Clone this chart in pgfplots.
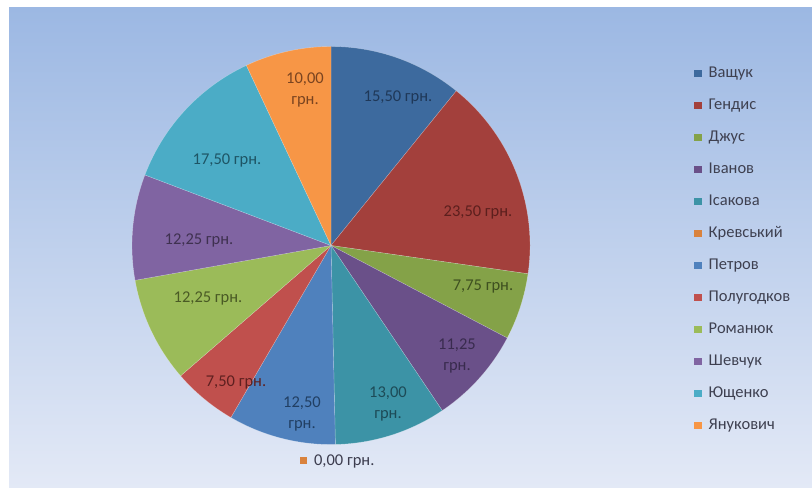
\documentclass[border=0pt]{standalone}
\usepackage{fontspec}
\setmainfont{Carlito}
\usepackage{pgfplots}
\pgfplotsset{compat=1.18}

\definecolor{bgTop}{HTML}{9CB8E3}
\definecolor{bgBot}{HTML}{E3E9F6}
\definecolor{cVa}{HTML}{3D6A9E}
\definecolor{cGe}{HTML}{A3403C}
\definecolor{cDz}{HTML}{84A248}
\definecolor{cIv}{HTML}{6A5089}
\definecolor{cIs}{HTML}{3C93A6}
\definecolor{cKr}{HTML}{D9823D}
\definecolor{cPe}{HTML}{4F81BD}
\definecolor{cPo}{HTML}{C0504D}
\definecolor{cRo}{HTML}{9BBB59}
\definecolor{cSh}{HTML}{8064A2}
\definecolor{cYu}{HTML}{4BACC6}
\definecolor{cYa}{HTML}{F79646}
\definecolor{lVa}{HTML}{1F3858}
\definecolor{lGe}{HTML}{5C1F1D}
\definecolor{lDz}{HTML}{3E5020}
\definecolor{lIv}{HTML}{392B4E}
\definecolor{lIs}{HTML}{1D4B57}
\definecolor{lPe}{HTML}{213F63}
\definecolor{lPo}{HTML}{5E2020}
\definecolor{lRo}{HTML}{4A5A25}
\definecolor{lSh}{HTML}{3F3150}
\definecolor{lYu}{HTML}{1E5565}
\definecolor{lYa}{HTML}{7A4420}
\definecolor{lZe}{HTML}{3C3C4E}
\definecolor{legText}{HTML}{3E4050}

\def\cx{331}
\def\cy{242.5}
\def\rr{199}
\def\total{143}
\def\cumsum{0}
\newcommand{\slice}[2]{%
  \pgfmathsetmacro\aS{90-(\cumsum/\total)*360}%
  \pgfmathsetmacro\newcum{\cumsum+#1}%
  \global\let\cumsum\newcum
  \pgfmathsetmacro\aE{90-(\cumsum/\total)*360}%
  \addplot[fill=#2, draw=white, draw opacity=0.35, line width=0.4bp,
    domain=\aE:\aS, samples=80]
    ({\cx+\rr*cos(x)},{\cy+\rr*sin(x)}) -- (axis cs:\cx,\cy) -- cycle;
}
\newcommand{\lfont}{\fontsize{16.5bp}{21bp}\selectfont}

\begin{document}
\begin{tikzpicture}
\useasboundingbox (0,0) rectangle (812bp,488bp);
\fill[white] (0,0) rectangle (812bp,488bp);
\shade[top color=bgTop, bottom color=bgBot] (9bp,0) rectangle (812bp,480bp);
\begin{axis}[
  at={(0,0)}, anchor=south west,
  scale only axis, width=812bp, height=488bp,
  xmin=0, xmax=812, ymin=0, ymax=488,
  hide axis, clip=false,
  legend image code/.code={\path[#1, draw=none] (0bp,-3.5bp) rectangle (7.5bp,4bp);},
  legend style={at={(axis cs:694,422.5)}, anchor=north west, draw=none, fill=none,
    font=\lfont, text=legText, inner sep=0pt, column sep=7bp, row sep=16bp,
    nodes={inner sep=0pt, text height=12bp, text depth=4bp}},
  legend cell align=left,
]
\slice{15.50}{cVa}\addlegendentry{Ващук}
\slice{23.50}{cGe}\addlegendentry{Гендис}
\slice{7.75}{cDz}\addlegendentry{Джус}
\slice{11.25}{cIv}\addlegendentry{Іванов}
\slice{13.00}{cIs}\addlegendentry{Ісакова}
\addlegendimage{fill=cKr, draw=none}\addlegendentry{Кревський}
\slice{12.50}{cPe}\addlegendentry{Петров}
\slice{7.50}{cPo}\addlegendentry{Полугодков}
\slice{12.25}{cRo}\addlegendentry{Романюк}
\slice{12.25}{cSh}\addlegendentry{Шевчук}
\slice{17.50}{cYu}\addlegendentry{Ющенко}
\slice{10.00}{cYa}\addlegendentry{Янукович}

\begin{scope}[every node/.style={font=\lfont, align=center, inner sep=0pt}]
\node[text=lVa] at (axis cs:398,391) {15,50 грн.};
\node[text=lGe] at (axis cs:478,276) {23,50 грн.};
\node[text=lDz] at (axis cs:483,201) {7,75 грн.};
\node[text=lIv] at (axis cs:457,132) {11,25\\грн.};
\node[text=lIs] at (axis cs:388,84) {13,00\\грн.};
\node[text=lPe] at (axis cs:302,74) {12,50\\грн.};
\node[text=lPo] at (axis cs:236,106) {7,50 грн.};
\node[text=lRo] at (axis cs:208,190) {12,25 грн.};
\node[text=lSh] at (axis cs:199,248) {12,25 грн.};
\node[text=lYu] at (axis cs:227,328) {17,50 грн.};
\node[text=lYa] at (axis cs:305,398) {10,00\\грн.};
\node[text=lZe] at (axis cs:337,27) {\textcolor{cKr}{\raisebox{1bp}{\rule{7.5bp}{7.5bp}}}\hspace{7bp}0,00 грн.};
\end{scope}
\end{axis}
\end{tikzpicture}
\end{document}
